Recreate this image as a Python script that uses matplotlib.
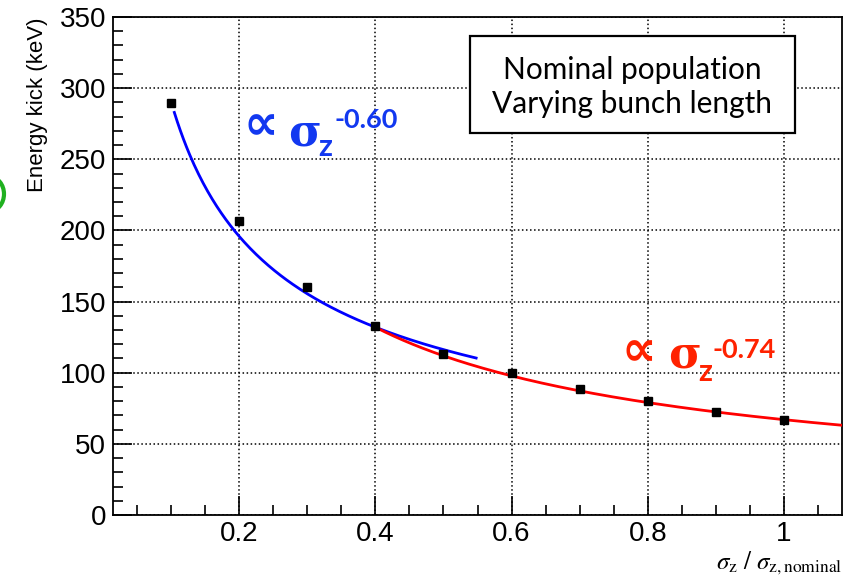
import numpy as np
import matplotlib
matplotlib.use("Agg")
import matplotlib.pyplot as plt
from matplotlib.patches import Ellipse, Rectangle
from matplotlib.ticker import MultipleLocator

# measured energy kick vs relative bunch length
sigma_rel = [0.1, 0.2, 0.3, 0.4, 0.5, 0.6, 0.7, 0.8, 0.9, 1.0]
kick_kev = [289.5, 206.5, 160.5, 133.0, 113.0, 100.0, 88.5, 80.0, 72.5, 67.0]

# power-law fit curves  A * x^-b
blue_amp, blue_exp, blue_range = 78.3, 0.57, (0.105, 0.548)
red_amp, red_exp, red_range = 67.0, 0.74, (0.4, 1.085)

plt.rcParams['font.family'] = ['Liberation Sans', 'DejaVu Sans']
plt.rcParams['mathtext.fontset'] = 'stix'

W, H = 858, 576
fig = plt.figure(figsize=(W / 100, H / 100), dpi=100)
ax = fig.add_axes([113 / W, 1 - 515 / H, 729 / W, 498 / H])

xb = np.linspace(*blue_range, 200)
ax.plot(xb, blue_amp * xb ** -blue_exp, color='#0000ff', lw=2, zorder=3)
xr = np.linspace(*red_range, 200)
ax.plot(xr, red_amp * xr ** -red_exp, color='#ff0000', lw=2, zorder=3)
ax.plot(sigma_rel, kick_kev, 's', color='black', ms=6, zorder=4)

ax.set_xlim(0.015, 1.085)
ax.set_ylim(0, 350)
ax.xaxis.set_major_locator(MultipleLocator(0.2))
ax.xaxis.set_minor_locator(MultipleLocator(0.05))
ax.yaxis.set_major_locator(MultipleLocator(50))
ax.yaxis.set_minor_locator(MultipleLocator(10))
ax.tick_params(which='both', direction='in', top=False, right=False,
               labelsize=20, width=1.2)
ax.tick_params(which='major', length=14)
ax.tick_params(which='minor', length=7)
ax.tick_params(axis='y', pad=5)
ax.tick_params(axis='x', pad=4)
ax.set_xticks([0.2, 0.4, 0.6, 0.8, 1.0])
ax.set_xticklabels(['0.2', '0.4', '0.6', '0.8', '1'])
ax.grid(True, which='major', color='black', ls=':', lw=1.1)
for s in ax.spines.values():
    s.set_linewidth(1.3)

ax.set_ylabel('Energy kick (keV)', fontsize=16, loc='top', labelpad=8)
fig.text(842 / W, 1 - 563 / H, r'$\sigma_{\mathrm{z}}\ /\ \sigma_{\mathrm{z,nominal}}$',
         ha='right', va='center', fontsize=18)

# info box
box_x0, box_y0 = (470 - 113) / 729, (515 - 133) / 498
box_x1, box_y1 = (795 - 113) / 729, (515 - 36) / 498
ax.add_patch(Rectangle((box_x0, box_y0), box_x1 - box_x0, box_y1 - box_y0,
                       transform=ax.transAxes, fc='white', ec='black',
                       lw=1.6, zorder=5))
for txt, ypx in [('Nominal population', 70), ('Varying bunch length', 104)]:
    ax.text((box_x0 + box_x1) / 2, (515 - ypx) / 498, txt,
            transform=ax.transAxes, ha='center', va='center', fontsize=21.5,
            family=['Lato', 'DejaVu Sans'], zorder=6)


# fit annotations, positions in picture pixels (left, baseline)
def put(xpx, ypx, s, color, size, fam):
    fig.text(xpx / W, 1 - ypx / H, s, color=color, fontsize=size,
             fontweight='bold', family=fam, ha='left', va='baseline')


def power_label(xs, ys, color, expo):
    put(xs[0], ys[0], '\u221d', color, 35, ['DejaVu Sans'])
    put(xs[1], ys[1], '\u03c3', color, 32, ['DejaVu Serif'])
    put(xs[2], ys[2], 'z', color, 22, ['Lato', 'DejaVu Sans'])
    put(xs[3], ys[3], expo, color, 19.5, ['Lato', 'DejaVu Sans'])


power_label((243, 288, 318, 335), (139, 145, 156, 128), '#1238f0', '-0.60')
power_label((622, 668, 698, 713), (365, 368, 381, 358), '#ff2200', '-0.74')

# clipped green marker at the left edge
fig.patches.append(Ellipse((-10 / W, 1 - 194 / H), 28 / W, 34 / H,
                           transform=fig.transFigure, fc='none',
                           ec='#20b020', lw=3))

fig.savefig('out.png', dpi=100)
